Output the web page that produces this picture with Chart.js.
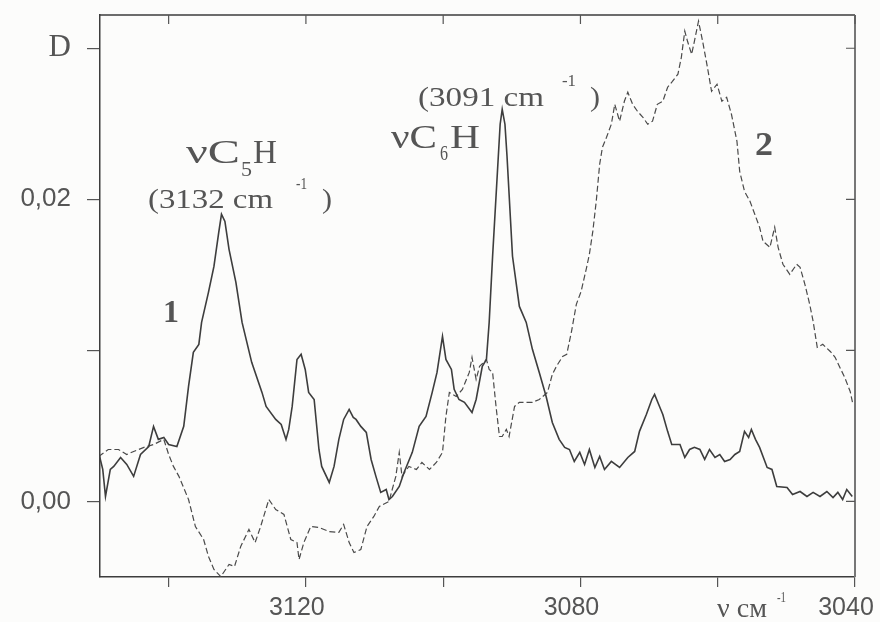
<!DOCTYPE html>
<html><head><meta charset="utf-8">
<script src="https://cdn.jsdelivr.net/npm/chart.js@4"></script>
<style>html,body{margin:0;padding:0;background:#fcfcfb}#wrap{width:880px;height:622px}</style>
</head><body><div id="wrap"><canvas id="c" width="880" height="622"></canvas></div>
<script>
// Curve 1 (solid)
const freq1 = [3150.2,3149.6,3149.2,3148.5,3148.0,3147.0,3146.1,3145.1,3144.1,3142.9,3142.2,3141.5,3140.7,3140.0,3138.8,3137.8,3137.1,3136.4,3135.6,3135.2,3134.2,3133.4,3132.7,3132.3,3131.8,3131.2,3130.2,3129.3,3127.9,3126.4,3125.8,3124.4,3123.6,3122.9,3122.5,3122.0,3121.3,3120.7,3120.1,3119.6,3118.8,3118.1,3117.7,3116.6,3115.9,3115.2,3114.5,3113.7,3113.1,3112.7,3112.0,3111.2,3110.5,3109.8,3109.1,3108.3,3107.9,3107.4,3106.4,3105.7,3104.5,3103.5,3102.5,3101.6,3100.9,3100.1,3099.6,3098.8,3098.4,3097.7,3096.9,3095.8,3095.2,3094.3,3093.7,3093.3,3092.8,3092.1,3091.7,3091.4,3091.0,3090.7,3089.9,3088.9,3087.9,3087.0,3086.0,3085.0,3084.1,3083.1,3082.3,3081.6,3080.9,3080.1,3079.4,3078.7,3077.9,3077.2,3076.5,3075.5,3074.3,3073.1,3072.1,3071.4,3070.4,3069.6,3069.2,3068.6,3068.0,3067.3,3066.7,3065.5,3064.8,3064.1,3063.4,3062.6,3061.9,3061.2,3060.4,3059.7,3059.0,3058.2,3057.5,3056.8,3056.1,3055.5,3055.1,3054.5,3053.9,3052.8,3052.1,3051.4,3049.9,3049.1,3048.0,3047.0,3046.1,3045.1,3044.1,3043.2,3042.5,3041.8,3041.2,3040.4];
const absorb1 = [0.00325,0.00212,0.00033,0.00212,0.00232,0.00291,0.00245,0.00166,0.00311,0.00364,0.00497,0.00411,0.00424,0.00377,0.00364,0.00497,0.00762,0.00987,0.0104,0.01185,0.01384,0.01556,0.01781,0.01901,0.01854,0.01669,0.0145,0.01185,0.00921,0.00722,0.00629,0.00543,0.0051,0.00411,0.00477,0.00629,0.0094,0.00974,0.00874,0.00722,0.00675,0.00344,0.00232,0.00126,0.00232,0.00411,0.00543,0.00609,0.00556,0.00543,0.00497,0.00457,0.00278,0.00166,0.0006,0.00079,0.00013,0.00033,0.00099,0.00192,0.00325,0.00497,0.00563,0.00722,0.00854,0.01093,0.0094,0.00874,0.00742,0.00675,0.00656,0.00589,0.00675,0.00894,0.0094,0.01185,0.01623,0.02179,0.02497,0.02596,0.02497,0.02285,0.01623,0.01291,0.01185,0.01007,0.00854,0.00695,0.00523,0.00411,0.00358,0.00344,0.00265,0.00325,0.00245,0.00344,0.00225,0.00298,0.00212,0.00265,0.00225,0.00291,0.00331,0.00464,0.00576,0.00675,0.00709,0.00642,0.00576,0.00464,0.00377,0.00377,0.00291,0.00344,0.00358,0.00344,0.00278,0.00344,0.00291,0.00311,0.00265,0.00278,0.00311,0.00331,0.00464,0.00424,0.00477,0.00411,0.00358,0.00225,0.00212,0.00099,0.00093,0.00046,0.00066,0.00033,0.0006,0.00033,0.00066,0.00026,0.0006,0.00013,0.00079,0.00033];
// Curve 2 (dashed)
const freq2 = [3150.2,3148.8,3147.3,3146.1,3145.1,3143.6,3142.2,3140.7,3140.0,3139.3,3138.5,3137.1,3136.1,3134.9,3134.2,3133.4,3132.4,3131.2,3130.4,3129.5,3128.3,3127.4,3126.6,3125.4,3124.4,3123.2,3122.2,3121.3,3121.0,3120.3,3119.3,3118.1,3116.6,3115.2,3114.5,3113.7,3113.0,3112.0,3111.1,3110.1,3109.3,3107.9,3106.9,3106.4,3106.0,3105.0,3103.9,3103.1,3102.0,3101.0,3100.1,3099.6,3099.1,3098.1,3097.2,3096.2,3095.8,3095.2,3094.7,3093.7,3093.3,3092.8,3092.3,3091.8,3091.4,3090.8,3090.4,3089.6,3088.9,3087.9,3087.0,3086.0,3084.8,3084.1,3083.5,3082.6,3082.0,3081.3,3080.6,3079.9,3079.1,3078.7,3078.2,3077.7,3077.2,3076.8,3076.2,3075.5,3075.0,3074.3,3073.6,3073.1,3072.4,3071.7,3070.9,3070.2,3069.5,3068.8,3068.0,3067.3,3066.6,3065.8,3065.3,3064.8,3064.4,3063.8,3063.4,3062.8,3062.2,3061.5,3060.9,3060.1,3059.4,3058.7,3058.0,3057.2,3056.8,3056.1,3055.3,3054.6,3053.9,3053.4,3052.4,3051.7,3051.2,3050.5,3049.5,3048.5,3048.0,3047.3,3046.6,3046.1,3045.5,3044.7,3043.6,3042.9,3042.2,3041.5,3040.7,3040.3];
const absorb2 = [0.00298,0.00344,0.00344,0.00311,0.00331,0.00358,0.00377,0.00411,0.00311,0.00232,0.00166,0.00013,-0.00166,-0.00252,-0.00364,-0.0045,-0.00497,-0.00417,-0.0043,-0.00298,-0.00185,-0.00272,-0.00166,0.00013,-0.00053,-0.00086,-0.00252,-0.00272,-0.00384,-0.00272,-0.00166,-0.00172,-0.00199,-0.00205,-0.00152,-0.00272,-0.00338,-0.00318,-0.00166,-0.00099,-0.00033,0.0,0.00166,0.00325,0.00166,0.00232,0.00212,0.00258,0.00212,0.00258,0.00325,0.00563,0.00722,0.00695,0.00742,0.00854,0.00954,0.00808,0.00894,0.0094,0.00874,0.00854,0.00629,0.0043,0.0043,0.00477,0.0043,0.00629,0.00656,0.00656,0.00656,0.00675,0.00722,0.00841,0.00894,0.0096,0.00974,0.01126,0.01305,0.01391,0.0155,0.01636,0.01788,0.01987,0.02232,0.02344,0.02411,0.02497,0.02629,0.02517,0.02649,0.02709,0.02629,0.02583,0.02543,0.02497,0.02517,0.02629,0.02649,0.02742,0.02781,0.02828,0.0294,0.03113,0.03046,0.0296,0.03046,0.03179,0.03046,0.02874,0.02715,0.02762,0.02649,0.02675,0.02563,0.02384,0.02185,0.02053,0.01987,0.01901,0.01815,0.01722,0.01682,0.01815,0.01682,0.0157,0.01503,0.0157,0.0155,0.01437,0.01305,0.01192,0.0102,0.0104,0.00993,0.00954,0.00887,0.00821,0.00728,0.00642];
// Ticks
const xTickValues = [3140,3120,3100,3080,3060,3040];
const xTickLabels = ['','3120','','3080','','3040'];
const yTickValues = [0,0.01,0.02,0.03];
const yTickLabels = ['0,00','','0,02','D'];

const INK = '#3d3d3d';
const TXT = '#555555';

function txt(ctx, s, x, y, font, w) {
  ctx.font = font;
  const m = ctx.measureText(s).width;
  ctx.save();
  ctx.translate(x, y);
  if (w) ctx.scale(w / m, 1);
  ctx.fillText(s, 0, 0);
  ctx.restore();
}

const framePlugin = {
  id: 'frame',
  afterDatasetsDraw(chart) {
    const {ctx, chartArea: a, scales} = chart;
    ctx.save();
    ctx.strokeStyle = INK;
    ctx.lineWidth = 1.5;
    ctx.beginPath();
    ctx.moveTo(a.left, a.top); ctx.lineTo(a.right, a.top);
    ctx.stroke();
    ctx.strokeStyle = '#777';
    ctx.lineWidth = 2;
    ctx.beginPath();
    ctx.moveTo(a.right, a.top); ctx.lineTo(a.right, a.bottom);
    ctx.stroke();
    ctx.lineWidth = 1.2;
    ctx.strokeStyle = '#555';
    ctx.beginPath();
    xTickValues.forEach(v => {
      const px = scales.x.getPixelForValue(v);
      ctx.moveTo(px, a.top); ctx.lineTo(px, a.top + 9);
    });
    yTickValues.forEach(v => {
      const py = scales.y.getPixelForValue(v);
      ctx.moveTo(a.right, py); ctx.lineTo(a.right - 9, py);
    });
    ctx.stroke();

    // annotations
    ctx.fillStyle = TXT;
    ctx.textBaseline = 'alphabetic';
    ctx.textAlign = 'left';
    const S = 'Liberation Serif';
    txt(ctx, 'νC', 186, 163, '33px ' + S, 54);
    txt(ctx, '5', 241, 176, '21px ' + S, 11);
    txt(ctx, 'H', 253, 163, '33px ' + S, 24);
    txt(ctx, '(3132 cm', 148, 208, '27px ' + S, 125);
    txt(ctx, '-1', 296, 189, '16px ' + S, 11);
    txt(ctx, ')', 322, 208, '27px ' + S, 10);

    txt(ctx, 'νC', 391, 148, '33px ' + S, 46);
    txt(ctx, '6', 440, 160, '21px ' + S, 8);
    txt(ctx, 'H', 450, 148, '33px ' + S, 30);
    txt(ctx, '(3091 cm', 418, 106, '27px ' + S, 126);
    txt(ctx, '-1', 562, 86, '16px ' + S, 14);
    txt(ctx, ')', 590, 106, '27px ' + S, 10);

    txt(ctx, '1', 163, 322, 'bold 32px ' + S, 16);
    txt(ctx, '2', 755, 155, 'bold 34px ' + S, 18);

    txt(ctx, 'ν см', 717, 617, '27px ' + S, 50);
    txt(ctx, '-1', 777, 602, '15px ' + S, 9);
    ctx.restore();
  }
};

new Chart(document.getElementById('c'), {
  type: 'line',
  data: {
    datasets: [
      { data: freq1.map((f, i) => ({x: f, y: absorb1[i]})), borderColor: INK, borderWidth: 1.6, pointRadius: 0, tension: 0, fill: false },
      { data: freq2.map((f, i) => ({x: f, y: absorb2[i]})), borderColor: '#4a4a4a', borderWidth: 1.2, borderDash: [6, 3], pointRadius: 0, tension: 0, fill: false }
    ]
  },
  options: {
    responsive: false,
    animation: false,
    devicePixelRatio: 1,
    layout: { padding: { top: 15, right: 25, left: 0, bottom: 0 } },
    plugins: { legend: { display: false }, tooltip: { enabled: false } },
    scales: {
      x: {
        type: 'linear', reverse: true, min: 3040, max: 3150,
        afterBuildTicks: s => { s.ticks = xTickValues.map(v => ({value: v})); },
        afterFit: s => { s.height = 45; s.paddingLeft = 0; s.paddingRight = 0; },
        grid: { drawOnChartArea: false, drawTicks: true, tickLength: 10, color: '#555', lineWidth: 1.2 },
        border: { display: true, color: INK, width: 1.5 },
        ticks: {
          callback: (v, i) => xTickLabels[i],
          font: { family: 'Liberation Sans', size: 25 }, color: TXT,
          padding: 6, maxRotation: 0, autoSkip: false, labelOffset: -9
        }
      },
      y: {
        type: 'linear', min: -0.005, max: 0.0322,
        afterBuildTicks: s => { s.ticks = yTickValues.map(v => ({value: v})); },
        afterFit: s => { s.width = 100; s.paddingTop = 0; s.paddingBottom = 0; },
        grid: { drawOnChartArea: false, drawTicks: true, tickLength: 13, color: '#555', lineWidth: 1.2 },
        border: { display: true, color: INK, width: 1.5 },
        ticks: {
          callback: (v, i) => yTickLabels[i],
          font: c => (c.index === 3 ? { family: 'Liberation Serif', size: 31 } : { family: 'Liberation Sans', size: 26 }),
          color: TXT, padding: 16
        }
      }
    }
  },
  plugins: [framePlugin]
});
</script></body></html>
